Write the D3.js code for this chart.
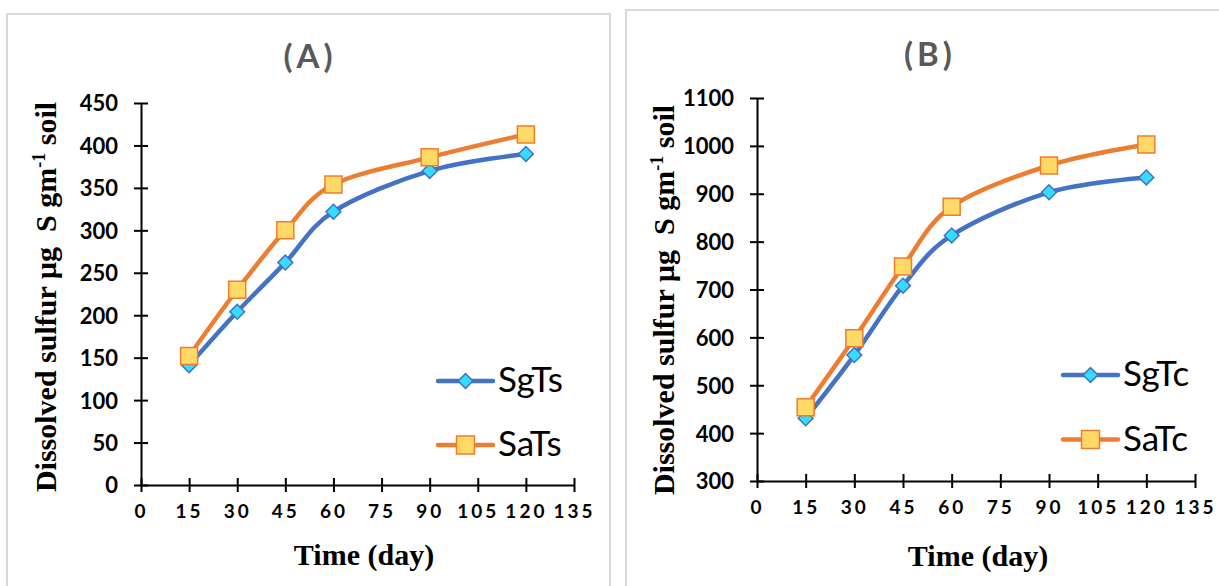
<!DOCTYPE html>
<html>
<head>
<meta charset="utf-8">
<script src="https://cdn.jsdelivr.net/npm/d3@7"></script>
<style>
  body { margin: 0; background: #fff; }
  svg { display: block; }
</style>
</head>
<body>
<svg id="svg" width="1219" height="586"></svg>
<script>
// values
var days = [15, 30, 45, 60, 90, 120];
var sgTs = [141, 204, 262, 322, 370, 390];
var saTs = [152, 230, 300, 354, 386, 413];
var sgTc = [431, 563, 708, 813, 903, 934];
var saTc = [454, 598, 748, 873, 959, 1003];

var xTickValues = [0, 15, 30, 45, 60, 75, 90, 105, 120, 135];
var yTicksA = [0, 50, 100, 150, 200, 250, 300, 350, 400, 450];
var yTicksB = [300, 400, 500, 600, 700, 800, 900, 1000, 1100];

var svg;
var blue = '#4472C4';
var orange = '#ED7D31';

document.addEventListener('DOMContentLoaded', function () {
    svg = d3.select('#svg');

    drawPanel({
        frame: { x: 7, y: 14, w: 603, h: 620 },
        left: 141, right: 574, top: 103, bottom: 485,
        yTicks: yTicksA,
        title: '(A)', titleX: 310, titleY: 68,
        yLabelX: 56, yLabelY: 297,
        xLabelX: 364, xLabelY: 565,
        series: [{ name: 'SgTs', values: sgTs }, { name: 'SaTs', values: saTs }],
        legend: { x1: 438, x2: 493, y: [381, 445], textX: 498 }
    });

    drawPanel({
        frame: { x: 626, y: 10, w: 620, h: 620 },
        left: 757, right: 1195, top: 98, bottom: 481,
        yTicks: yTicksB,
        title: '(B)', titleX: 930, titleY: 66,
        yLabelX: 674, yLabelY: 300,
        xLabelX: 978, xLabelY: 566,
        series: [{ name: 'SgTc', values: sgTc }, { name: 'SaTc', values: saTc }],
        legend: { x1: 1063, x2: 1118, y: [375, 439.5], textX: 1123 }
    });
});

function drawPanel(p) {
    const g = svg.append('g');

    g.append('rect')
        .attr('x', p.frame.x).attr('y', p.frame.y)
        .attr('width', p.frame.w).attr('height', p.frame.h)
        .attr('fill', '#fff')
        .attr('stroke', '#D9D9D9')
        .attr('stroke-width', 2);

    const xScale = d3.scaleLinear()
        .domain([0, 135])
        .range([p.left, p.right]);
    const yScale = d3.scaleLinear()
        .domain([p.yTicks[0], p.yTicks[p.yTicks.length - 1]])
        .range([p.bottom, p.top]);

    // y axis, ticks crossing the line
    const yAxis = g.append('g')
        .attr('transform', `translate(${p.left},0)`)
        .call(d3.axisLeft(yScale).tickValues(p.yTicks).tickFormat(d3.format('d'))
            .tickSizeInner(7).tickSizeOuter(0).tickPadding(16));
    yAxis.select('.domain').attr('stroke-width', 2);
    yAxis.selectAll('.tick line').attr('x1', 7).attr('stroke-width', 2);
    yAxis.selectAll('.tick text')
        .style('font-family', 'Lato')
        .style('font-weight', 'bold')
        .style('font-size', '22px')
        .attr('dy', '0.36em');

    // x axis
    const xAxis = g.append('g')
        .attr('transform', `translate(0,${p.bottom})`)
        .call(d3.axisBottom(xScale).tickValues(xTickValues).tickSizeInner(7).tickSizeOuter(0));
    xAxis.select('.domain').attr('stroke-width', 2);
    xAxis.selectAll('.tick line').attr('y1', -7).attr('stroke-width', 2);
    xAxis.selectAll('.tick text')
        .attr('y', 20)
        .style('font-family', 'Lato')
        .style('font-weight', 'bold')
        .style('font-size', '19px')
        .style('letter-spacing', '3px');

    // title
    g.append('text')
        .attr('x', p.titleX)
        .attr('y', p.titleY)
        .attr('text-anchor', 'middle')
        .style('font-family', 'Lato')
        .style('font-weight', 'bold')
        .style('font-size', '33px')
        .style('letter-spacing', '4px')
        .attr('fill', '#595959')
        .text(p.title);

    // axis labels
    const yl = g.append('text')
        .attr('transform', `translate(${p.yLabelX},${p.yLabelY}) rotate(-90)`)
        .attr('text-anchor', 'middle')
        .style('font-family', '"Liberation Serif", "Times New Roman", serif')
        .style('font-weight', 'bold')
        .style('font-size', '30px')
        .style('white-space', 'pre');
    yl.append('tspan').text('Dissolved sulfur µg  S gm');
    yl.append('tspan').attr('dy', -11).style('font-size', '18px').text('-1');
    yl.append('tspan').attr('dy', 11).text(' soil');

    g.append('text')
        .attr('x', p.xLabelX)
        .attr('y', p.xLabelY)
        .attr('text-anchor', 'middle')
        .style('font-family', '"Liberation Serif", "Times New Roman", serif')
        .style('font-weight', 'bold')
        .style('font-size', '30px')
        .text('Time (day)');

    const line = d3.line()
        .x((d, i) => xScale(days[i]))
        .y(d => yScale(d))
        .curve(d3.curveCardinal);

    const colors = [blue, orange];
    const fills = ['#33DDFF', '#FFD966'];
    const diamond = d3.symbol().type(d3.symbolSquare).size(110)();
    const square = d3.symbol().type(d3.symbolSquare).size(289)();

    p.series.forEach((s, si) => {
        g.append('path')
            .datum(s.values)
            .attr('d', line)
            .attr('fill', 'none')
            .attr('stroke', colors[si])
            .attr('stroke-width', 4.5)
            .attr('stroke-linecap', 'round')
            .attr('stroke-linejoin', 'round');

        g.selectAll('.m' + si)
            .data(s.values)
            .join('path')
            .attr('class', 'm' + si)
            .attr('d', si === 0 ? diamond : square)
            .attr('transform', (d, i) => `translate(${xScale(days[i])},${yScale(d)})` + (si === 0 ? ' rotate(45)' : ''))
            .attr('fill', fills[si])
            .attr('stroke', colors[si])
            .attr('stroke-width', 1.5);

        // legend entry
        const ly = p.legend.y[si];
        g.append('line')
            .attr('x1', p.legend.x1).attr('x2', p.legend.x2)
            .attr('y1', ly).attr('y2', ly)
            .attr('stroke', colors[si])
            .attr('stroke-width', 4.5)
            .attr('stroke-linecap', 'round');
        g.append('path')
            .attr('d', si === 0 ? diamond : d3.symbol().type(d3.symbolSquare).size(324)())
            .attr('transform', `translate(${(p.legend.x1 + p.legend.x2) / 2},${ly})` + (si === 0 ? ' rotate(45)' : ''))
            .attr('fill', fills[si])
            .attr('stroke', colors[si])
            .attr('stroke-width', 1.5);
        g.append('text')
            .attr('x', p.legend.textX)
            .attr('y', ly + 11)
            .style('font-family', 'Lato')
            .style('font-size', '35px')
            .text(s.name);
    });
}
</script>
</body>
</html>
